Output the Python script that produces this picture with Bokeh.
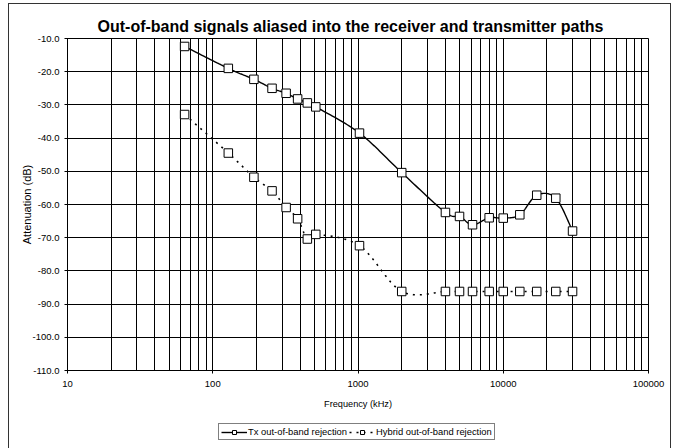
import numpy as np
from bokeh.plotting import figure
from bokeh.layouts import column
from bokeh.models import (Range1d, FixedTicker, PrintfTickFormatter, Legend, LegendItem,
                          ColumnDataSource)
from bokeh.embed import file_html
from bokeh.resources import INLINE

# ---- data ----
freq_khz = [64, 128, 192, 256, 320, 384, 448, 512, 1024, 2000, 4000, 5000, 6144,
            8000, 10000, 13000, 17000, 23000, 30000]
tx_rejection = [-12.4, -19.0, -22.3, -25.0, -26.5, -28.2, -29.4, -30.6, -38.5, -50.4,
                -62.4, -63.6, -66.1, -64.0, -64.1, -63.1, -57.2, -58.1, -68.0]
hybrid_rejection = [-32.9, -44.5, -51.8, -55.9, -60.9, -64.3, -70.4, -69.0, -72.4, -86.2,
                    -86.2, -86.2, -86.2, -86.2, -86.2, -86.2, -86.2, -86.2, -86.2]
x_ticks = [10, 100, 1000, 10000, 100000]
y_ticks = [-110, -100, -90, -80, -70, -60, -50, -40, -30, -20, -10]

title_text = "Out-of-band signals aliased into the receiver and transmitter paths"
x_label = "Frequency (kHz)"
y_label = "Attenuation (dB)"
tx_name = "Tx out-of-band rejection"
hyb_name = "Hybrid out-of-band rejection"

FONT = "Liberation Sans"


def smooth(xs, ys, n=24):
    """Excel-like smoothed line (Catmull-Rom / cubic Bezier) in log-x space."""
    lx = np.log10(np.asarray(xs, float))
    yy = np.asarray(ys, float)
    P = np.column_stack([lx, yy])
    P = np.vstack([P[0], P, P[-1]])
    out = []
    t = np.linspace(0, 1, n)
    for i in range(1, len(P) - 2):
        p0, p1, p2, p3 = P[i - 1], P[i], P[i + 1], P[i + 2]
        b1 = p1 + (p2 - p0) / 6.0
        b2 = p2 - (p3 - p1) / 6.0
        seg = ((1 - t) ** 3)[:, None] * p1 + (3 * (1 - t) ** 2 * t)[:, None] * b1 \
            + (3 * (1 - t) * t ** 2)[:, None] * b2 + (t ** 3)[:, None] * p2
        out.append(seg if i == 1 else seg[1:])
    S = np.vstack(out)
    return 10 ** S[:, 0], S[:, 1]


# ---------------- main chart ----------------
p = figure(width=661, height=412, x_axis_type="log",
           x_range=Range1d(10, 100000), y_range=Range1d(-110, -10),
           output_backend="svg", toolbar_location=None,
           min_border_left=58, min_border_right=22, min_border_top=34, min_border_bottom=46)

p.title.text = title_text
p.title.align = "left"
p.title.offset = 30
p.title.text_font = FONT
p.title.text_font_size = "16px"
p.title.text_font_style = "bold"
p.title.text_color = "black"
p.title.standoff = 7

p.outline_line_color = "black"
p.outline_line_width = 1
p.background_fill_color = "white"
p.border_fill_color = "white"

# axes
p.xaxis.ticker = FixedTicker(ticks=x_ticks,
                             minor_ticks=[m * d for d in x_ticks[:-1] for m in range(2, 10)])
p.xaxis.formatter = PrintfTickFormatter(format="%d")
p.yaxis.ticker = FixedTicker(ticks=y_ticks)
p.yaxis.formatter = PrintfTickFormatter(format="%.1f")
for ax in (p.xaxis, p.yaxis):
    ax.axis_line_color = "black"
    ax.major_tick_line_color = "black"
    ax.major_tick_out = 3
    ax.major_tick_in = 3
    ax.minor_tick_out = 0
    ax.minor_tick_in = 0
    ax.major_label_text_font = FONT
    ax.major_label_text_font_size = "9.5px"
    ax.major_label_text_color = "black"
    ax.axis_label_text_font = FONT
    ax.axis_label_text_font_style = "normal"
    ax.axis_label_text_color = "black"
p.xaxis.axis_label = x_label
p.yaxis.axis_label = y_label
p.xaxis.axis_label_text_font_size = "9.2px"
p.yaxis.axis_label_text_font_size = "11px"
p.xaxis.major_label_standoff = 7
p.xaxis.axis_label_standoff = 9
p.yaxis.major_label_standoff = 5
p.yaxis.axis_label_standoff = -3

# grid
p.xgrid.grid_line_color = "black"
p.xgrid.grid_line_width = 1
p.xgrid.minor_grid_line_color = "black"
p.xgrid.minor_grid_line_width = 1
p.ygrid.grid_line_color = "black"
p.ygrid.grid_line_width = 1

# series
tx_sx, tx_sy = smooth(freq_khz, tx_rejection)
hy_sx, hy_sy = smooth(freq_khz, hybrid_rejection)

TX_LINE = dict(line_color="black", line_width=1.4)
HY_LINE = dict(line_color="black", line_width=1.6, line_dash="2 5")
MARK = dict(marker="square", size=8.5, fill_color="white", line_color="black", line_width=1)

p.line(tx_sx, tx_sy, **TX_LINE)
p.line(hy_sx, hy_sy, **HY_LINE)
src = ColumnDataSource(dict(x=freq_khz, tx=tx_rejection, hy=hybrid_rejection))
p.scatter("x", "tx", source=src, **MARK)
p.scatter("x", "hy", source=src, **MARK)

# ---------------- legend strip (below the chart) ----------------
q = figure(width=661, height=32, x_range=Range1d(0, 1), y_range=Range1d(0, 1),
           output_backend="svg", toolbar_location=None,
           x_axis_location=None, y_axis_location=None,
           min_border_left=0, min_border_right=0, min_border_top=0, min_border_bottom=0)
q.outline_line_color = None
q.grid.visible = False
q.background_fill_color = "white"
q.border_fill_color = "white"

# legend proxies: same series, but outside this strip's (0..1) ranges, so only the
# legend swatches are seen
lt = q.line("x", "tx", source=src, **TX_LINE)
lts = q.scatter("x", "tx", source=src, **MARK)
lh = q.line("x", "hy", source=src, **HY_LINE)
lhs = q.scatter("x", "hy", source=src, **MARK)

legend = Legend(items=[LegendItem(label=tx_name, renderers=[lt, lts]),
                       LegendItem(label=hyb_name, renderers=[lh, lhs])],
                location=(151, 8), orientation="horizontal")
legend.label_text_font = FONT
legend.label_text_font_size = "9.4px"
legend.label_text_color = "black"
legend.label_height = 10
legend.label_standoff = 1
legend.glyph_height = 10
legend.glyph_width = 26
legend.spacing = 2
legend.padding = 2
legend.margin = 0
legend.border_line_color = "black"
legend.border_line_width = 1
legend.background_fill_color = "white"
legend.background_fill_alpha = 1
q.add_layout(legend)

layout = column(p, q, spacing=0)
layout.styles = {"border": "1px solid #333333", "margin-left": "8px", "margin-top": "3px"}

open("out.html", "w").write(file_html(layout, INLINE))
